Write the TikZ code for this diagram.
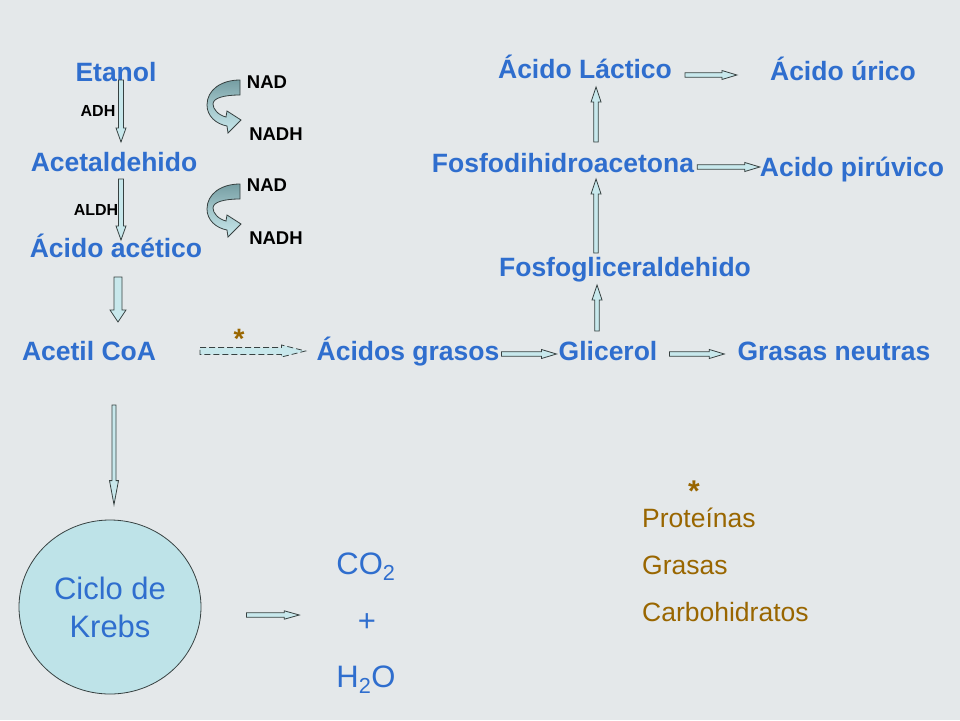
\documentclass[tikz,border=0pt]{standalone}
\usepackage{fontspec}
\setmainfont{Liberation Sans}
\usetikzlibrary{calc,shapes.geometric}
\definecolor{bgc}{RGB}{228,232,234}
\definecolor{lblue}{RGB}{47,110,206}
\definecolor{brnc}{RGB}{153,102,0}
\definecolor{afill}{RGB}{200,232,236}
\definecolor{adark}{RGB}{55,65,65}
\definecolor{cdark}{RGB}{118,158,163}
\definecolor{kfill}{RGB}{190,227,232}
\tikzset{
  lbl/.style={text=lblue, font=\fontsize{26.5}{30}\selectfont\bfseries, inner sep=0pt, text height=19pt, text depth=0pt},
  enz/.style={text=black, font=\fontsize{16}{18}\selectfont\bfseries, inner sep=0pt, text height=11.5pt, text depth=0pt},
  cof/.style={text=black, font=\fontsize{18.5}{20}\selectfont\bfseries, inner sep=0pt, text height=13.3pt, text depth=0pt},
  brtext/.style={text=brnc, font=\fontsize{26.5}{30}\selectfont, inner sep=0pt, text height=19pt, text depth=0pt, anchor=west},
  startxt/.style={text=brnc, font=\fontsize{#1}{#1}\selectfont\bfseries, inner sep=0pt, anchor=base},
  prod/.style={text=lblue, font=\fontsize{31}{38}\selectfont, inner sep=0pt, text height=22.2pt, text depth=0pt},
  krebsbox/.style={ellipse, fill=kfill, draw=adark, line width=0.8pt, minimum width=182pt, minimum height=174pt, inner sep=0pt, align=center, text=lblue, font=\fontsize{31}{38}\selectfont},
  barrow/.style={fill=afill, draw=adark, line width=0.8pt, line join=miter},
  curvarr/.pic={
    \draw[top color=cdark, bottom color=afill, middle color=afill!55!cdark, draw=adark, line width=0.8pt, line join=miter]
      (33,0) .. controls (14,0) and (0,10) .. (0,25)
      .. controls (0,36) and (9,44) .. (20,46)
      -- (21,53) -- (34,40) -- (20,31) -- (19,37)
      .. controls (11,35) and (6,29) .. (6,24)
      .. controls (6,18) and (17,15) .. (33,15) -- cycle;
  }
}
% block arrows: [style]{start}{end}{half shaft}{half head}{head length}
\newcommand\blkR[6][]{\filldraw[barrow,#1] let \p1=#2, \p2=#3 in
  (\x1,{\y1+#4}) -- ({\x2-#6},{\y1+#4}) -- ({\x2-#6},{\y1+#5}) -- (\x2,\y1) --
  ({\x2-#6},{\y1-#5}) -- ({\x2-#6},{\y1-#4}) -- (\x1,{\y1-#4}) -- cycle;}
\newcommand\blkD[6][]{\filldraw[barrow,#1] let \p1=#2, \p2=#3 in
  ({\x1-#4},\y1) -- ({\x1-#4},{\y2+#6}) -- ({\x1-#5},{\y2+#6}) -- (\x1,\y2) --
  ({\x1+#5},{\y2+#6}) -- ({\x1+#4},{\y2+#6}) -- ({\x1+#4},\y1) -- cycle;}
\newcommand\blkU[6][]{\filldraw[barrow,#1] let \p1=#2, \p2=#3 in
  ({\x1-#4},\y1) -- ({\x1-#4},{\y2-#6}) -- ({\x1-#5},{\y2-#6}) -- (\x1,\y2) --
  ({\x1+#5},{\y2-#6}) -- ({\x1+#4},{\y2-#6}) -- ({\x1+#4},\y1) -- cycle;}
\begin{document}
\begin{tikzpicture}[x=1pt,y=-1pt]
\useasboundingbox (0,0) rectangle (960,720);
\fill[bgc] (0,0) rectangle (960,720);

% left column
\node[lbl] (etanol) at (116,72) {Etanol};
\node[lbl] (acet) at (114,162) {Acetaldehido};
\node[lbl] (acido) at (116,248) {Ácido acético};
\node[lbl] (acetil) at (89,351) {Acetil CoA};
\node[enz] (adh) at (98,111) {ADH};
\node[enz] (aldh) at (96,210) {ALDH};
\node[cof] (nad1) at (267,82) {NAD};
\node[cof] (nadh1) at (276,134) {NADH};
\node[cof] (nad2) at (267,185) {NAD};
\node[cof] (nadh2) at (276,238) {NADH};
\pic at (207,80) {curvarr};
\pic at (207,184) {curvarr};

% middle row
\node[lbl] (agrasos) at (408,351) {Ácidos grasos};
\node[lbl] (glicerol) at (608,351) {Glicerol};
\node[lbl] (gneutras) at (834,351) {Grasas neutras};
\node[startxt=28] (star1) at (239,348) {*};

% right column
\node[lbl] (fgli) at (625,267) {Fosfogliceraldehido};
\node[lbl] (fdhac) at (563,163) {Fosfodihidroacetona};
\node[lbl] (lactico) at (585,69) {Ácido Láctico};
\node[lbl] (urico) at (843,71) {Ácido úrico};
\node[lbl] (piruvico) at (852,167) {Acido pirúvico};

% bottom
\node[krebsbox] (krebs) at (110,607) {Ciclo de\\Krebs};
\node[prod] (co2) at (366,563) {CO\textsubscript{2}};
\node[prod] (plus) at (367,620) {+};
\node[prod] (h2o) at (366,676) {H\textsubscript{2}O};
\node[startxt=30] (star2) at (694,501) {*};
\node[brtext] (prot) at (642,518) {Proteínas};
\node[brtext] (gras) at (642,565) {Grasas};
\node[brtext] (carb) at (642,612) {Carbohidratos};

% arrows
\blkD{($(etanol.center)+(5,8)$)}{($(acet.center)+(7,-20)$)}{2.5pt}{5pt}{14pt}
\blkD{($(acet.center)+(7,17)$)}{($(acido.center)+(5,-8)$)}{2.5pt}{5pt}{14pt}
\blkD{($(acido.center)+(2,29)$)}{($(acetil.center)+(29,-29)$)}{4pt}{8pt}{12pt}
\blkD{($(acetil.center)+(25,54)$)}{($(krebs.north)+(4,-15)$)}{2pt}{4.5pt}{24pt}
\blkR[dashed, dash pattern=on 6pt off 3pt]{($(acetil.center)+(111,0)$)}{($(agrasos.west)+(-11,0)$)}{3.5pt}{6pt}{24pt}
\blkR{($(agrasos.east)+(2,3)$)}{($(glicerol.west)+(-2,3)$)}{2.2pt}{4.5pt}{15pt}
\blkR{($(glicerol.east)+(12,3)$)}{($(gneutras.west)+(-13,3)$)}{2.2pt}{4.5pt}{15pt}
\blkU{($(glicerol.center)+(-11,-20)$)}{($(fgli.center)+(-28,18)$)}{2.3pt}{5pt}{15pt}
\blkU{($(fgli.center)+(-29,-14)$)}{($(fdhac.center)+(33,16)$)}{2.3pt}{5pt}{15pt}
\blkU{($(fdhac.center)+(33,-21)$)}{($(lactico.center)+(11,18)$)}{2.3pt}{5pt}{15pt}
\blkR{($(lactico.east)+(13,6)$)}{($(urico.west)+(-33,6)$)}{2.2pt}{4.5pt}{15pt}
\blkR{($(fdhac.east)+(3,4)$)}{($(piruvico.west)+(0,4)$)}{2.2pt}{4.5pt}{15pt}
\blkR{($(krebs.east)+(45,8)$)}{($(co2.west)+(-37,8)$)}{2.2pt}{4.2pt}{15pt}
\end{tikzpicture}
\end{document}
